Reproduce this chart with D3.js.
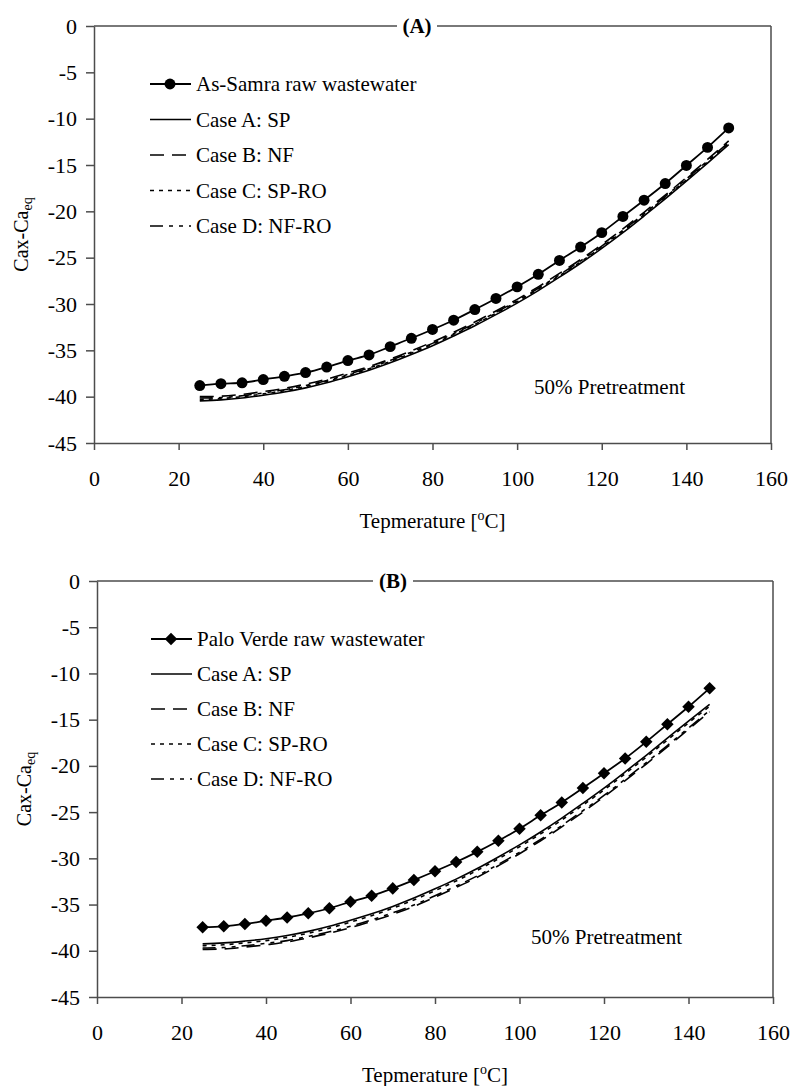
<!DOCTYPE html>
<html>
<head>
<meta charset="utf-8">
<script src="https://cdn.jsdelivr.net/npm/d3@7"></script>
<style>
  body { margin: 0; background: #fff; }
  svg { display: block; font-family: "Liberation Serif", "Times New Roman", serif; }
</style>
</head>
<body>
<div id="chart"></div>
<script>
// ---- panel A data (As-Samra) ----
const tempA = [25, 30, 35, 40, 45, 50, 55, 60, 65, 70, 75, 80, 85, 90, 95, 100, 105, 110, 115, 120, 125, 130, 135, 140, 145, 150];
const rawA = [-38.8, -38.6, -38.5, -38.15, -37.8, -37.4, -36.8, -36.1, -35.5, -34.6, -33.7, -32.75, -31.75, -30.6, -29.4, -28.15, -26.8, -25.3, -23.85, -22.3, -20.55, -18.8, -17.0, -15.05, -13.1, -11.0];
const spA = [-40.45, -40.35, -40.15, -39.85, -39.5, -39.05, -38.5, -37.85, -37.15, -36.35, -35.45, -34.5, -33.45, -32.35, -31.15, -29.9, -28.55, -27.1, -25.6, -24.0, -22.3, -20.5, -18.65, -16.75, -14.8, -12.8];
const nfA = [-40.0, -39.95, -39.75, -39.45, -39.1, -38.65, -38.1, -37.45, -36.75, -35.95, -35.05, -34.1, -33.05, -31.95, -30.75, -29.5, -28.15, -26.7, -25.2, -23.6, -21.9, -20.1, -18.25, -16.35, -14.4, -12.4];
const spRoA = [-40.3, -40.2, -40.0, -39.7, -39.35, -38.9, -38.35, -37.7, -37.0, -36.2, -35.3, -34.35, -33.3, -32.2, -31.0, -29.75, -28.4, -26.95, -25.45, -23.85, -22.15, -20.35, -18.5, -16.6, -14.65, -12.65];
const nfRoA = [-40.15, -40.1, -39.9, -39.6, -39.25, -38.8, -38.25, -37.6, -36.9, -36.1, -35.2, -34.25, -33.2, -32.1, -30.9, -29.65, -28.3, -26.85, -25.35, -23.75, -22.05, -20.25, -18.4, -16.5, -14.55, -12.55];

// ---- panel B data (Palo Verde) ----
const tempB = [25, 30, 35, 40, 45, 50, 55, 60, 65, 70, 75, 80, 85, 90, 95, 100, 105, 110, 115, 120, 125, 130, 135, 140, 145];
const rawB = [-37.45, -37.35, -37.1, -36.75, -36.4, -35.95, -35.4, -34.7, -34.05, -33.25, -32.35, -31.4, -30.4, -29.3, -28.1, -26.8, -25.35, -23.95, -22.4, -20.8, -19.2, -17.4, -15.5, -13.6, -11.6];
const spB = [-39.25, -39.15, -38.95, -38.7, -38.35, -37.9, -37.35, -36.7, -36.0, -35.2, -34.3, -33.3, -32.25, -31.1, -29.85, -28.55, -27.15, -25.65, -24.05, -22.4, -20.65, -18.85, -17.0, -15.15, -13.35];
const nfB = [-39.85, -39.8, -39.6, -39.35, -39.05, -38.6, -38.1, -37.5, -36.8, -36.05, -35.2, -34.2, -33.15, -32.05, -30.8, -29.5, -28.1, -26.6, -25.0, -23.35, -21.6, -19.8, -17.95, -16.05, -14.15];
const spRoB = [-39.45, -39.35, -39.15, -38.9, -38.55, -38.1, -37.55, -36.9, -36.2, -35.4, -34.5, -33.5, -32.45, -31.3, -30.05, -28.75, -27.35, -25.85, -24.25, -22.6, -20.85, -19.05, -17.2, -15.35, -13.55];
const nfRoB = [-39.7, -39.65, -39.45, -39.2, -38.9, -38.45, -37.95, -37.35, -36.65, -35.9, -35.05, -34.05, -33.0, -31.9, -30.65, -29.35, -27.95, -26.45, -24.85, -23.2, -21.45, -19.65, -17.8, -15.9, -14.0];

const xTicks = [0, 20, 40, 60, 80, 100, 120, 140, 160];
const yTicks = [0, -5, -10, -15, -20, -25, -30, -35, -40, -45];
const caseLabels = ["Case A: SP", "Case B: NF", "Case C: SP-RO", "Case D: NF-RO"];
const caseDash = [null, "14,8", "4,5", "13,6,4,6,4,6"];

const W = 790, H = 1086;
const svg = d3.select("#chart").append("svg")
  .attr("width", W).attr("height", H)
  .attr("viewBox", [0, 0, W, H]);

const axisColor = "#4d4d4d";
const fs = 21;

function drawPanel(p) {
  const x = d3.scaleLinear().domain([0, 160]).range([p.left, p.right]);
  const y = d3.scaleLinear().domain([-45, 0]).range([p.bottom, p.top]);
  const g = svg.append("g");

  // frame top/right
  g.append("line").attr("x1", p.left).attr("x2", p.right).attr("y1", p.top).attr("y2", p.top)
    .attr("stroke", axisColor).attr("stroke-width", 1.5);
  g.append("line").attr("x1", p.right).attr("x2", p.right).attr("y1", p.top).attr("y2", p.bottom)
    .attr("stroke", axisColor).attr("stroke-width", 1.5);

  const xAxis = g.append("g")
    .attr("transform", `translate(0,${p.bottom})`)
    .call(d3.axisBottom(x).tickValues(xTicks).tickSize(7).tickPadding(20).tickSizeOuter(0).tickFormat(d => String(d)));
  const yAxis = g.append("g")
    .attr("transform", `translate(${p.left},0)`)
    .call(d3.axisLeft(y).tickValues(yTicks).tickSize(8).tickPadding(9).tickSizeOuter(0).tickFormat(d => String(d)));

  [xAxis, yAxis].forEach(a => {
    a.select(".domain").attr("stroke", axisColor).attr("stroke-width", 1.5);
    a.selectAll(".tick line").attr("stroke", axisColor).attr("stroke-width", 1.5);
    a.selectAll(".tick text").attr("fill", "#000").style("font-size", "22px").style("font-family", "Liberation Serif");
  });

  // panel title on the top border
  g.append("rect").attr("x", p.titleX - 20).attr("y", p.top - 4).attr("width", 40).attr("height", 8).attr("fill", "#fff");
  g.append("text").attr("x", p.titleX).attr("y", p.top + 7)
    .attr("text-anchor", "middle").style("font-size", fs + "px").style("font-weight", "bold")
    .text(p.title);

  // axis titles
  const xt = g.append("text").attr("x", (p.left + p.right) / 2).attr("y", p.bottom + 85)
    .attr("text-anchor", "middle").style("font-size", fs + "px");
  xt.append("tspan").text("Tepmerature [");
  xt.append("tspan").attr("dy", -8).style("font-size", "14px").text("o");
  xt.append("tspan").attr("dy", 8).text("C]");

  const yt = g.append("text")
    .attr("transform", `translate(${p.left - 66},${(p.top + p.bottom) / 2}) rotate(-90)`)
    .attr("text-anchor", "middle").style("font-size", "20px");
  yt.append("tspan").text("Cax-Ca");
  yt.append("tspan").attr("dy", 4).style("font-size", "14px").text("eq");

  // series
  const line = d3.line().x(d => x(d[0])).y(d => y(d[1])).curve(d3.curveMonotoneX);
  p.cases.forEach((vals, i) => {
    g.append("path")
      .datum(p.temps.map((t, j) => [t, vals[j]]))
      .attr("fill", "none").attr("stroke", "#000").attr("stroke-width", 1.6)
      .attr("stroke-dasharray", caseDash[i])
      .attr("d", line);
  });
  const rawPts = p.temps.map((t, j) => [t, p.raw[j]]);
  g.append("path").datum(rawPts)
    .attr("fill", "none").attr("stroke", "#000").attr("stroke-width", 1.8)
    .attr("d", line);

  const marker = p.marker === "circle"
    ? d3.symbol().type(d3.symbolCircle).size(Math.PI * 30)
    : d3.symbol().type(d3.symbolDiamond2).size(100);
  g.selectAll(".pt").data(rawPts).join("path")
    .attr("class", "pt")
    .attr("transform", d => `translate(${x(d[0])},${y(d[1])})`)
    .attr("d", marker)
    .attr("fill", "#000");

  // legend
  const lg = g.append("g");
  const rows = [p.rawLabel].concat(caseLabels);
  rows.forEach((label, i) => {
    const ry = p.legendY + i * p.legendStep;
    lg.append("line").attr("x1", p.legendX).attr("x2", p.legendX + 41).attr("y1", ry).attr("y2", ry)
      .attr("stroke", "#000").attr("stroke-width", i === 0 ? 1.8 : 1.6)
      .attr("stroke-dasharray", i === 0 ? null : caseDash[i - 1]);
    if (i === 0) {
      lg.append("path").attr("transform", `translate(${p.legendX + 20},${ry})`)
        .attr("d", marker).attr("fill", "#000");
    }
    lg.append("text").attr("x", p.legendX + 46).attr("y", ry + 7)
      .style("font-size", fs + "px").text(label);
  });

  g.append("text").attr("x", p.noteX).attr("y", p.noteY)
    .style("font-size", fs + "px").text("50% Pretreatment");
}

drawPanel({
  left: 94, right: 771, top: 26, bottom: 443,
  title: "(A)", titleX: 417,
  temps: tempA, raw: rawA, cases: [spA, nfA, spRoA, nfRoA],
  marker: "circle", rawLabel: "As-Samra raw wastewater",
  legendX: 150, legendY: 84, legendStep: 35.5,
  noteX: 534, noteY: 394
});

drawPanel({
  left: 97, right: 773, top: 581, bottom: 997,
  title: "(B)", titleX: 393,
  temps: tempB, raw: rawB, cases: [spB, nfB, spRoB, nfRoB],
  marker: "diamond", rawLabel: "Palo Verde raw wastewater",
  legendX: 151, legendY: 639, legendStep: 35,
  noteX: 531, noteY: 944
});
</script>
</body>
</html>
